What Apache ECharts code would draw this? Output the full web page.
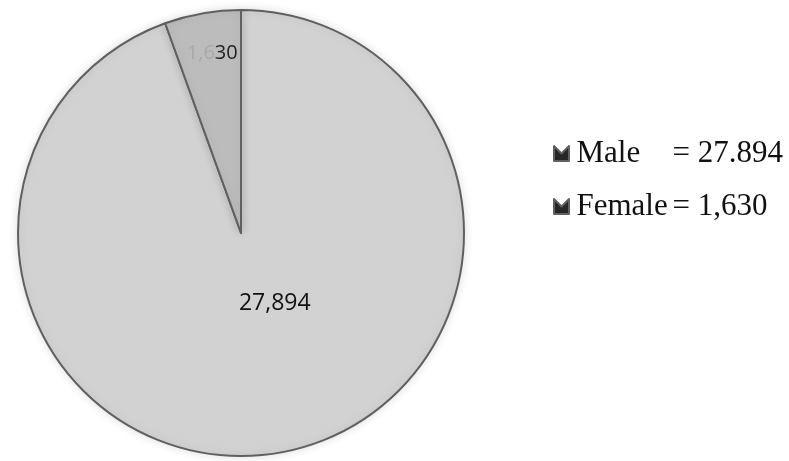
<!DOCTYPE html>
<html><head><meta charset="utf-8">
<script src="https://cdn.jsdelivr.net/npm/echarts@6/dist/echarts.min.js"></script>
<style>html,body{margin:0;padding:0;background:#fff}#c{width:789px;height:461px}</style>
</head><body><div id="c"></div>
<script>
const categories = ['Male', 'Female'];
const values = [27894, 1630];
const legendValueText = ['27.894', '1,630'];
const sliceLabels = ['27,894', '1,630'];

const chart = echarts.init(document.getElementById('c'));
const fills = ['#d2d2d2', '#bcbcbc'];
const offsets = [[14, -42], [-9, -67]];
const labelSizes = [23, 20];
chart.setOption({
  backgroundColor: '#ffffff',
  animation: false,
  legend: {
    orient: 'vertical',
    left: 548,
    top: 133,
    itemGap: 22,
    itemWidth: 16,
    itemHeight: 15,
    icon: 'path://M0,0 L5,5 L10,0 L10,10 L0,10 Z',
    data: categories.map(c => ({ name: c, itemStyle: { color: '#262626' } })),
    formatter: function (name) {
      const i = categories.indexOf(name);
      return '{a|' + name + '}{b|= ' + legendValueText[i] + '}';
    },
    textStyle: {
      fontFamily: 'Liberation Serif',
      fontSize: 31,
      color: '#111',
      lineHeight: 30,
      padding: [0, 0, 0, 2],
      rich: {
        a: { fontFamily: 'Liberation Serif', fontSize: 31, color: '#111', width: 96, lineHeight: 30 },
        b: { fontFamily: 'Liberation Serif', fontSize: 31, color: '#111', lineHeight: 30 }
      }
    }
  },
  series: [{
    type: 'pie',
    center: [241, 233],
    radius: 223,
    startAngle: 90,
    clockwise: true,
    labelLine: { show: false },
    itemStyle: {
      borderColor: '#606060', borderWidth: 2,
      shadowBlur: 10, shadowColor: 'rgba(0,0,0,0.12)'
    },
    data: categories.map((c, i) => ({
      name: c,
      value: values[i],
      itemStyle: { color: fills[i] },
      label: {
        show: true,
        position: 'inside',
        formatter: i === 1 ? '{l|1,6}{d|30}' : sliceLabels[i],
        fontFamily: 'Open Sans',
        fontSize: labelSizes[i],
        color: '#111',
        offset: offsets[i],
        rich: {
          l: { fontFamily: 'Open Sans', fontSize: labelSizes[i], color: '#a9a9a9' },
          d: { fontFamily: 'Open Sans', fontSize: labelSizes[i], color: '#222' }
        }
      }
    }))
  }]
});
</script>
</body></html>
